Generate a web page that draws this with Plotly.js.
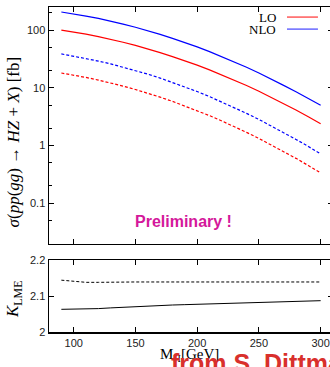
<!DOCTYPE html>
<html>
<head>
<meta charset="utf-8">
<script src="https://cdn.plot.ly/plotly-3.0.1.min.js"></script>
<style>
html,body{margin:0;padding:0;overflow:hidden;background:#fff;}
#chart{width:340px;height:367px;}
</style>
</head>
<body>
<div id="chart"></div>
<script>
// Higgs mass M_H [GeV]
const massH = [90,100,110,120,130,140,150,160,170,180,190,200,210,220,230,240,250,260,270,280,290,300];
// sigma [fb], solid curves
const sigmaLO  = [100,92.6,84.9,77.0,69.2,61.5,54.1,47.2,40.7,34.7,29.4,24.6,20.4,16.7,13.6,10.9,8.67,6.83,5.32,4.11,3.14,2.38];
const sigmaNLO = [206,191,175,159,143,127,112,97.6,84.4,71.9,61.0,51.0,42.3,34.7,28.3,22.7,18.0,14.2,11.0,8.53,6.52,4.97];
// sigma [fb], dashed curves
const sigmaLOdash  = [17.99,16.55,15.08,13.58,12.10,10.67,9.31,8.04,6.86,5.80,4.84,4.01,3.28,2.65,2.13,1.68,1.32,1.02,0.786,0.596,0.448,0.333];
const sigmaNLOdash = [38.6,35.4,32.2,29.0,25.9,22.8,19.9,17.2,14.7,12.4,10.35,8.58,7.02,5.67,4.56,3.59,2.82,2.18,1.68,1.27,0.958,0.712];
// K factors (lower panel)
const kSolid  = [2.063,2.063,2.063,2.065,2.067,2.069,2.070,2.072,2.073,2.075,2.076,2.077,2.078,2.079,2.080,2.081,2.082,2.083,2.084,2.085,2.086,2.087];
const kDashed = [2.144,2.140,2.138,2.138,2.139,2.139,2.139,2.139,2.139,2.139,2.139,2.139,2.139,2.139,2.139,2.139,2.139,2.139,2.139,2.139,2.139,2.139];
// tick labels
const xTicks = [100,150,200,250,300];
const yTopTicks = [0.1,1,10,100];
const yTopTickText = ['0.1','1','10','100'];
const yTopMinor = [0.02,0.05,0.2,0.5,2,5,20,50,200];
const yBotTicks = [2,2.1,2.2];
const yBotTickText = ['2','2.1','2.2'];

const RED = '#ff0000', BLUE = '#0000ff';
const tickFont = {family:'Liberation Sans, Arial, sans-serif', size:11, color:'#222'};
const serif = 'Liberation Serif, Times New Roman, serif';

const traces = [
  {x:massH, y:sigmaNLO, mode:'lines', line:{color:BLUE, width:1.2}, xaxis:'x', yaxis:'y'},
  {x:massH, y:sigmaLO, mode:'lines', line:{color:RED, width:1.2}, xaxis:'x', yaxis:'y'},
  {x:massH, y:sigmaNLOdash, mode:'lines', line:{color:BLUE, width:1.2, dash:'3px,2px'}, xaxis:'x', yaxis:'y'},
  {x:massH, y:sigmaLOdash, mode:'lines', line:{color:RED, width:1.2, dash:'3px,2px'}, xaxis:'x', yaxis:'y'},
  {x:massH, y:kDashed, mode:'lines', line:{color:'#000', width:1, dash:'3px,2px'}, xaxis:'x2', yaxis:'y2'},
  {x:massH, y:kSolid, mode:'lines', line:{color:'#000', width:1}, xaxis:'x2', yaxis:'y2'}
];

const axBase = {
  showline:true, linecolor:'#000', linewidth:1.5, mirror:'allticks',
  ticks:'inside', ticklen:5, tickwidth:1, tickcolor:'#000',
  showgrid:false, zeroline:false, tickfont:tickFont
};

const layout = {
  width:340, height:367,
  margin:{l:49, r:7, t:7, b:35},
  paper_bgcolor:'#fff', plot_bgcolor:'#fff',
  showlegend:false,
  xaxis: Object.assign({}, axBase, {range:[80,310], tickmode:'array', tickvals:xTicks, showticklabels:false, anchor:'y'}),
  xaxis2: Object.assign({}, axBase, {range:[80,310], tickmode:'array', tickvals:xTicks, anchor:'y2', matches:'x'}),
  yaxis: Object.assign({}, axBase, {type:'log', range:[-1.71,2.4], domain:[0.2708,1], tickmode:'array',
          tickvals:yTopTicks, ticktext:yTopTickText, anchor:'x',
          minor:{tickmode:'array', tickvals:yTopMinor, ticks:'inside', ticklen:3, tickcolor:'#000', tickwidth:1}}),
  yaxis2: Object.assign({}, axBase, {range:[2,2.2], domain:[0,0.2215], tickmode:'array',
          tickvals:yBotTicks, ticktext:yBotTickText, anchor:'x2'}),
  shapes:[
    {type:'line', xref:'paper', yref:'paper', x0:0.838, x1:0.947, y0:0.969, y1:0.969, line:{color:'#ff4040', width:1.3}},
    {type:'line', xref:'paper', yref:'paper', x0:0.838, x1:0.947, y0:0.932, y1:0.932, line:{color:'#5050ff', width:1.3}}
  ],
  annotations:[
    {text:'LO', xref:'paper', yref:'paper', x:0.806, y:0.969, xanchor:'right', yanchor:'middle', showarrow:false,
     font:{family:serif, size:13, color:'#000'}},
    {text:'NLO', xref:'paper', yref:'paper', x:0.806, y:0.932, xanchor:'right', yanchor:'middle', showarrow:false,
     font:{family:serif, size:13, color:'#000'}},
    {text:'Preliminary !', xref:'paper', yref:'paper', x:0.475, y:0.3415, xanchor:'center', yanchor:'middle', showarrow:false,
     font:{family:'Liberation Sans, Arial, sans-serif', size:16, color:'#d4189b', weight:'bold'}},
    {text:'<i>σ</i>(<i>pp</i>(<i>gg</i>) → <i>HZ</i> + <i>X</i>) [fb]', xref:'paper', yref:'paper', x:-0.125, y:0.585,
     xanchor:'center', yanchor:'middle', textangle:-90, showarrow:false, font:{family:serif, size:17, color:'#000'}},
    {text:'<i>K</i><sub>LME</sub>', xref:'paper', yref:'paper', x:-0.125, y:0.1,
     xanchor:'center', yanchor:'middle', textangle:-90, showarrow:false, font:{family:serif, size:17, color:'#000'}},
    {text:'M<sub>H</sub>[GeV]', xref:'paper', yref:'paper', x:0.495, y:-0.072,
     xanchor:'center', yanchor:'middle', showarrow:false, font:{family:serif, size:15, color:'#000'}},
    {text:'from S. Dittmaier', xref:'paper', yref:'paper', x:0.422, y:-0.045, xanchor:'left', yanchor:'top', showarrow:false,
     font:{family:'Liberation Sans, Arial, sans-serif', size:25, color:'#d9302c', weight:'bold'}}
  ]
};

Plotly.newPlot('chart', traces, layout, {displayModeBar:false, staticPlot:true});
</script>
</body>
</html>
